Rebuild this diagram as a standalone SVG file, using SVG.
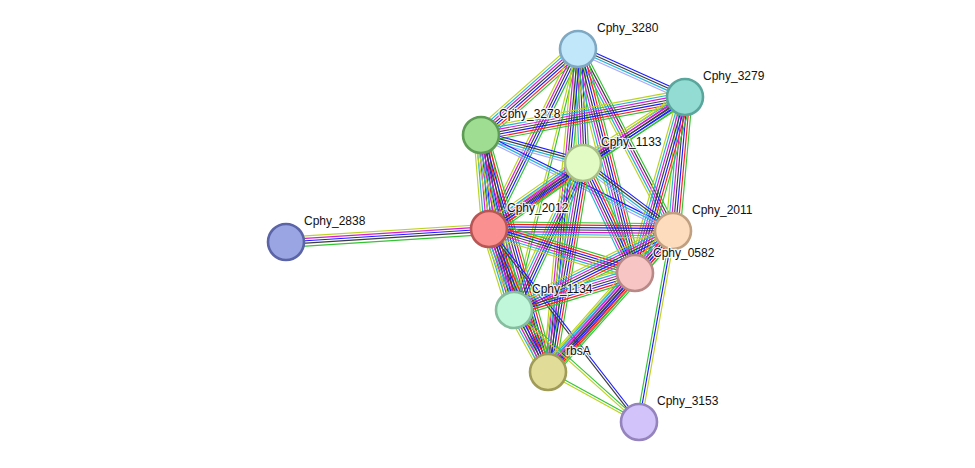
<svg xmlns="http://www.w3.org/2000/svg" xmlns:xlink="http://www.w3.org/1999/xlink" width="975" height="468" viewBox="0 0 975 468">
<style>
.e line{vector-effect:non-scaling-stroke;stroke-width:1.15;fill:none}
.g{stroke:#33c433}.r{stroke:#ff1a1a}.b{stroke:#1a1aff}.k{stroke:#3c3c3c}.m{stroke:#d61bd6}.c{stroke:#22b2d6}.y{stroke:#bcd31e}.l{stroke:#a8a8ff}
.n circle{stroke-width:2.6}
.n text{font-family:"Liberation Sans",Arial,sans-serif;font-size:12px;fill:#111;stroke:#fff;stroke-width:2.6;stroke-opacity:0.85;paint-order:stroke;stroke-linejoin:round}
</style>
<defs>
<g id="F" class="e"><line class="g" x2="1" y1="-6" y2="-6"/><line class="r" x2="1" y1="-4" y2="-4"/><line class="b" x2="1" y1="-2" y2="-2"/><line class="k" x2="1" y1="0" y2="0"/><line class="m" x2="1" y1="2" y2="2"/><line class="c" x2="1" y1="4" y2="4"/><line class="y" x2="1" y1="6" y2="6"/></g>
<g id="Fo" class="e"><line class="g" x2="1" y1="-5" y2="-5"/><line class="r" x2="1" y1="-3" y2="-3"/><line class="b" x2="1" y1="-1" y2="-1"/><line class="k" x2="1" y1="1" y2="1"/><line class="m" x2="1" y1="3" y2="3"/><line class="c" x2="1" y1="5" y2="5"/><line class="y" x2="1" y1="7" y2="7"/></g>
<g id="F6" class="e"><line class="g" x2="1" y1="-5" y2="-5"/><line class="b" x2="1" y1="-3" y2="-3"/><line class="k" x2="1" y1="-1" y2="-1"/><line class="m" x2="1" y1="1" y2="1"/><line class="c" x2="1" y1="3" y2="3"/><line class="y" x2="1" y1="5" y2="5"/></g>
<g id="F6r" class="e"><line class="g" x2="1" y1="-5" y2="-5"/><line class="r" x2="1" y1="-3" y2="-3"/><line class="b" x2="1" y1="-1" y2="-1"/><line class="k" x2="1" y1="1" y2="1"/><line class="m" x2="1" y1="3" y2="3"/><line class="c" x2="1" y1="5" y2="5"/></g>
<g id="F5" class="e"><line class="g" x2="1" y1="-4" y2="-4"/><line class="b" x2="1" y1="-2" y2="-2"/><line class="k" x2="1" y1="0" y2="0"/><line class="m" x2="1" y1="2" y2="2"/><line class="y" x2="1" y1="4" y2="4"/></g>
<g id="G5" class="e"><line class="g" x2="1" y1="-4" y2="-4"/><line class="k" x2="1" y1="-2" y2="-2"/><line class="m" x2="1" y1="0" y2="0"/><line class="c" x2="1" y1="2" y2="2"/><line class="y" x2="1" y1="4" y2="4"/></g>
<g id="H4" class="e"><line class="b" x2="1" y1="-3" y2="-3"/><line class="k" x2="1" y1="-1" y2="-1"/><line class="c" x2="1" y1="1" y2="1"/><line class="l" x2="1" y1="3" y2="3"/></g>
<g id="BCL" class="e"><line class="b" x2="1" y1="-2" y2="-2"/><line class="c" x2="1" y1="0" y2="0"/><line class="l" x2="1" y1="2" y2="2"/></g>
<g id="GY" class="e"><line class="g" x2="1" y1="-1" y2="-1"/><line class="y" x2="1" y1="1" y2="1"/></g>
<g id="BK" class="e"><line class="b" x2="1" y1="-1" y2="-1"/><line class="k" x2="1" y1="1" y2="1"/></g>
<g id="YBG" class="e"><line class="y" x2="1" y1="-2" y2="-2"/><line class="b" x2="1" y1="0" y2="0"/><line class="g" x2="1" y1="2" y2="2"/></g>
<g id="S2838" class="e"><line class="g" x2="1" y1="-4.5" y2="-4.5"/><line class="k" x2="1" y1="-2" y2="-2"/><line class="b" x2="1" y1="0" y2="0"/><line class="m" x2="1" y1="2" y2="2"/><line class="y" x2="1" y1="4" y2="4"/></g>
</defs>
<rect width="975" height="468" fill="#fff"/>
<g id="connectors">
<use href="#H4" transform="translate(578 49) rotate(24.16) scale(117.3 1.2)"/>
<use href="#F" transform="translate(578 49) rotate(138.44) scale(129.6 1.2)"/>
<use href="#F6" transform="translate(578 49) rotate(87.49) scale(114.1 1.2)"/>
<use href="#F5" transform="translate(578 49) rotate(116.27) scale(200.8 1.2)"/>
<use href="#G5" transform="translate(578 49) rotate(62.44) scale(205.3 1.2)"/>
<use href="#F" transform="translate(578 49) rotate(75.72) scale(231.1 1.2)"/>
<use href="#GY" transform="translate(578 49) rotate(103.78) scale(268.7 1.2)"/>
<use href="#F5" transform="translate(578 49) rotate(95.31) scale(324.4 1.2)"/>
<use href="#F" transform="translate(685 97) rotate(169.45) scale(207.5 1.2)"/>
<use href="#F6" transform="translate(685 97) rotate(147.09) scale(121.5 1.2)"/>
<use href="#F5" transform="translate(685 97) rotate(146.04) scale(236.3 1.2)"/>
<use href="#F" transform="translate(685 97) rotate(95.12) scale(134.5 1.2)"/>
<use href="#F" transform="translate(685 97) rotate(105.86) scale(183 1.2)"/>
<use href="#H4" transform="translate(481 135) rotate(15.35) scale(105.8 1.2)"/>
<use href="#F" transform="translate(481 135) rotate(85.14) scale(94.3 1.2)"/>
<use href="#BCL" transform="translate(481 135) rotate(26.57) scale(214.7 1.2)"/>
<use href="#F" transform="translate(481 135) rotate(79.32) scale(178.1 1.2)"/>
<use href="#F" transform="translate(481 135) rotate(74.21) scale(246.3 1.2)"/>
<use href="#F" transform="translate(583 163) rotate(144.93) scale(114.9 1.2)"/>
<use href="#H4" transform="translate(583 163) rotate(37.07) scale(112.8 1.2)"/>
<use href="#F6r" transform="translate(583 163) rotate(64.70) scale(121.7 1.2)"/>
<use href="#F6" transform="translate(583 163) rotate(115.13) scale(162.4 1.2)"/>
<use href="#F" transform="translate(583 163) rotate(99.51) scale(211.9 1.2)"/>
<use href="#S2838" transform="translate(489 229) rotate(176.34) scale(203.4 1.2)"/>
<use href="#F" transform="translate(489 229) rotate(0.62) scale(184 1.2)"/>
<use href="#F" transform="translate(489 229) rotate(16.77) scale(152.5 1.2)"/>
<use href="#F" transform="translate(489 229) rotate(72.85) scale(84.8 1.2)"/>
<use href="#F" transform="translate(489 229) rotate(67.58) scale(154.7 1.2)"/>
<use href="#BK" transform="translate(489 229) rotate(52.15) scale(244.4 1.2)"/>
<use href="#F" transform="translate(673 231) rotate(132.14) scale(56.6 1.2)"/>
<use href="#F" transform="translate(673 231) rotate(153.58) scale(177.5 1.2)"/>
<use href="#F" transform="translate(673 231) rotate(131.55) scale(188.4 1.2)"/>
<use href="#YBG" transform="translate(673 231) rotate(100.09) scale(194 1.2)"/>
<use href="#F" transform="translate(635 273) rotate(163) scale(126.5 1.2)"/>
<use href="#Fo" transform="translate(635 273) rotate(131.30) scale(131.8 1.2)"/>
<use href="#F" transform="translate(514 310) rotate(61.26) scale(70.7 1.2)"/>
<use href="#GY" transform="translate(548 372) rotate(28.79) scale(103.8 1.2)"/>
<use href="#GY" transform="translate(514 310) rotate(41.86) scale(167.8 1.2)"/>
</g>
<g id="n3280" class="n"><circle cx="578" cy="49" r="18" fill="#c1e7fb" stroke="#7fa8c2"/><text x="597" y="32">Cphy_3280</text></g>
<g id="n3279" class="n"><circle cx="685" cy="97" r="18" fill="#92dcd3" stroke="#5aa69d"/><text x="703" y="80">Cphy_3279</text></g>
<g id="n3278" class="n"><circle cx="481" cy="135" r="18" fill="#9fdd92" stroke="#5e9c55"/><text x="499" y="118">Cphy_3278</text></g>
<g id="n1133" class="n"><circle cx="583" cy="163" r="18" fill="#e2fbc4" stroke="#a8bf88"/><text x="601" y="146">Cphy_1133</text></g>
<g id="n2838" class="n"><circle cx="286" cy="242" r="18" fill="#9aa5e3" stroke="#5a64a6"/><text x="304" y="225">Cphy_2838</text></g>
<g id="n2012" class="n"><circle cx="489" cy="229" r="18" fill="#fb9090" stroke="#b85555"/><text x="507" y="212">Cphy_2012</text></g>
<g id="n2011" class="n"><circle cx="673" cy="231" r="18" fill="#fddcbd" stroke="#c0a080"/><text x="692" y="214">Cphy_2011</text></g>
<g id="n0582" class="n"><circle cx="635" cy="273" r="18" fill="#f6c5c4" stroke="#b98988"/><text x="653" y="257">Cphy_0582</text></g>
<g id="n1134" class="n"><circle cx="514" cy="310" r="18" fill="#c0f7da" stroke="#86bd9f"/><text x="532" y="293">Cphy_1134</text></g>
<g id="nrbsA" class="n"><circle cx="548" cy="372" r="18" fill="#e1dd99" stroke="#a09c58"/><text x="566" y="355">rbsA</text></g>
<g id="n3153" class="n"><circle cx="639" cy="422" r="18" fill="#d2c3fa" stroke="#9583bd"/><text x="657" y="405">Cphy_3153</text></g>
</svg>
